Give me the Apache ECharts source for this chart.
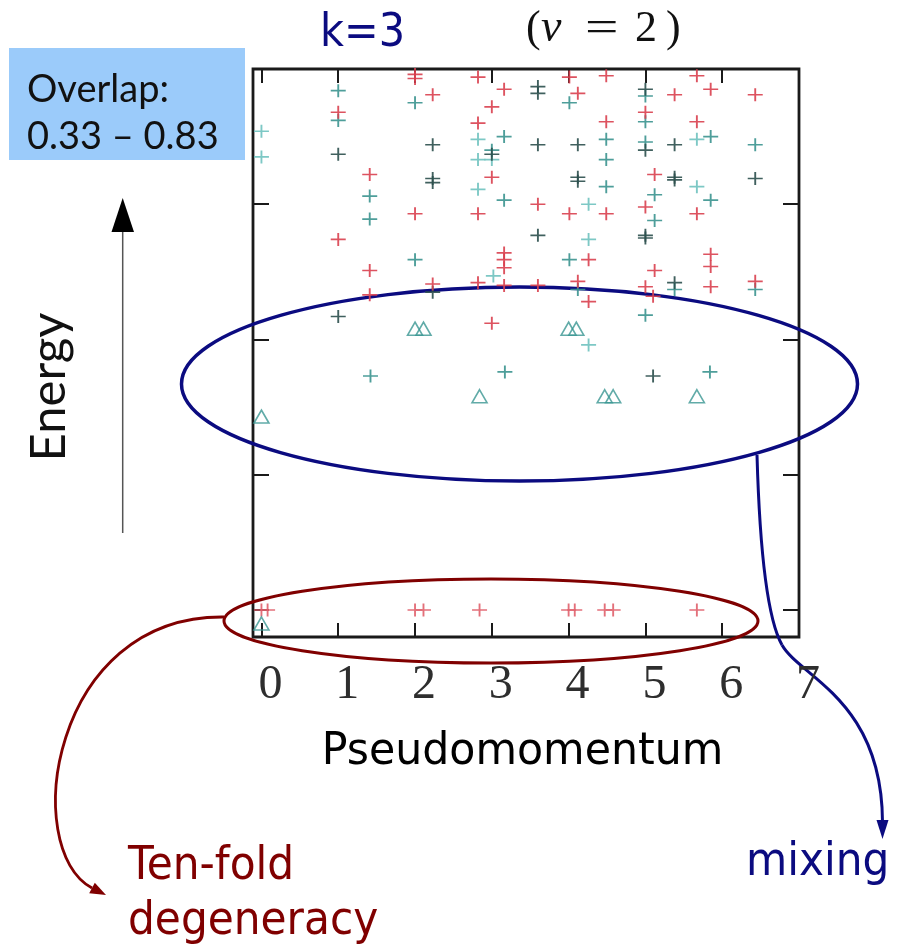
<!DOCTYPE html>
<html>
<head>
<meta charset="utf-8">
<script src="https://cdn.jsdelivr.net/npm/echarts@6/dist/echarts.min.js"></script>
<style>
  html, body { margin: 0; padding: 0; background: #fff; }
  #chart { width: 901px; height: 948px; }
</style>
</head>
<body>
<div id="chart"></div>
<script>
// pseudomomentum (x) vs energy (y, arbitrary units)
const redPts = [
  [2.0,3.96],[2.0,3.93],[2.82,3.94],[2.23,3.81],[3.16,3.85],[3.0,3.72],[1.0,3.68],[2.82,3.60],
  [1.41,3.22],[3.0,3.20],[3.6,3.00],[2.0,2.93],[2.82,2.93],[1.0,2.74],[3.16,2.64],[3.16,2.59],
  [3.16,2.53],[1.41,2.51],[2.23,2.41],[2.82,2.42],[3.16,2.40],[1.41,2.33],[3.6,2.40],
  [4.01,3.94],[4.49,3.95],[5.67,3.95],[5.85,3.85],[5.38,3.81],[6.43,3.81],[4.12,3.82],[4.49,3.61],
  [5.0,3.68],[5.67,3.61],[5.12,3.22],[4.01,2.93],[4.49,2.93],[5.0,2.98],[5.67,2.93],[4.26,2.59],
  [5.12,2.51],[5.85,2.63],[5.85,2.54],[4.12,2.43],[4.26,2.28],[5.0,2.39],[5.1,2.32],[5.85,2.39],
  [6.43,2.43],[3.0,2.12]
];
// ten-fold degenerate ground states
const groundPts = [
  [0,0],[0.08,0],[2.0,0],[2.11,0],[2.84,0],[4.0,0],[4.08,0],[4.47,0],[4.58,0],[5.67,0]
];
const darkPts = [
  [3.6,3.87],[3.6,3.82],[3.6,3.44],[2.23,3.44],[1.0,3.37],[3.0,3.37],[2.23,3.19],[2.23,3.16],
  [3.6,2.77],[2.23,2.35],[5.0,3.85],[4.12,3.44],[5.0,3.40],[5.38,3.44],[4.12,3.20],[4.12,3.17],
  [5.38,3.20],[5.38,3.18],[6.43,3.19],[5.0,2.77],[5.0,2.75],[5.38,2.42],[1.0,2.17],[5.1,1.73]
];
const tealPts = [
  [1.0,3.84],[2.0,3.75],[1.0,3.62],[3.16,3.50],[3.0,3.40],[1.41,3.06],[3.16,3.03],[1.41,2.89],
  [2.0,2.59],[5.0,3.80],[4.01,3.75],[5.0,3.61],[4.49,3.48],[5.0,3.46],[5.85,3.50],[6.43,3.44],
  [4.49,3.33],[4.49,3.13],[5.12,3.07],[5.85,3.03],[5.12,2.88],[4.01,2.59],[4.12,2.37],[5.38,2.37],
  [6.43,2.37],[5.0,2.18],[1.42,1.73],[3.17,1.76],[5.84,1.76]
];
const lightPts = [
  [0,3.54],[0,3.35],[2.82,3.48],[2.82,3.33],[3.0,3.33],[2.82,3.11],[3.02,2.47],[5.67,3.48],
  [5.67,3.13],[4.26,3.00],[4.26,2.74],[4.26,1.96]
];
const trianglePts = [
  [2.0,2.08],[2.11,2.08],[4.0,2.08],[4.1,2.08],[2.84,1.58],[4.47,1.58],[4.58,1.58],[5.67,1.58],
  [0,1.43],[0,-0.1]
];
const xTickVals = [0, 1, 2, 3, 4, 5, 6];
const xLabelVals = [0, 1, 2, 3, 4, 5, 6, 7];
const yTickVals = [0, 1, 2, 3];

const plusPath = 'path://M7,0H9V7H16V9H9V16H7V9H0V7H7Z';
const navy = '#0b0b80';
const maroon = '#800000';

const plusSeries = (data, color)=>{
    return {
        type: 'scatter',
        data,
        symbol: plusPath,
        symbolSize: [15, 13],
        silent: true,
        itemStyle: { color, opacity: 0.9 }
    };
};

const tickStyle = { color: '#1a1a1a', width: 2 };
const xAxisBase = (position)=>({
    type: 'value',
    min: -0.11,
    max: 7,
    position,
    axisLine: { show: false, onZero: false },
    splitLine: { show: false },
    axisTick: { show: true, inside: true, length: 14, lineStyle: tickStyle, customValues: xTickVals },
    axisLabel: { show: false }
});
const yAxisBase = (position)=>({
    type: 'value',
    min: -0.2,
    max: 4,
    position,
    axisLine: { show: false, onZero: false },
    splitLine: { show: false },
    axisTick: { show: true, inside: true, length: 16, lineStyle: tickStyle, customValues: yTickVals },
    axisLabel: { show: false }
});

const bottomAxis = xAxisBase('bottom');
bottomAxis.axisLabel = {
    show: true,
    customValues: xLabelVals,
    margin: 24,
    fontFamily: 'Liberation Serif',
    fontSize: 48,
    lineHeight: 48,
    color: '#2e2e2e',
    padding: [0, 0, 0, 18]
};

const txt = (x, y, text, font, fill, extra)=>{
    return Object.assign({
        type: 'text',
        x, y,
        silent: true,
        style: {
            x: 0, y: 0, text, font, fill,
            align: 'left', textAlign: 'left',
            verticalAlign: 'middle', textVerticalAlign: 'middle'
        }
    }, extra || {});
};

const graphic = [
    { type: 'rect', silent: true, shape: { x: 9, y: 48, width: 236, height: 112 }, style: { fill: '#9bcbfa' } },
    txt(27, 90, 'Overlap:', '38px Lato', '#111'),
    txt(27, 137, '0.33 \u2013 0.83', '38px Lato', '#111'),
    txt(320, 34, 'k=3', '46px "DejaVu Sans"', navy, { scaleX: 0.9 }),
    txt(526, 29, '(', '44px "Liberation Serif"', '#111'),
    txt(541, 29, '\u03bd', 'italic 46px "Liberation Serif"', '#111'),
    txt(585, 29, '=', '44px "Liberation Serif"', '#111', { scaleX: 1.35 }),
    txt(635, 29, '2', '44px "Liberation Serif"', '#111'),
    txt(666, 29, ')', '44px "Liberation Serif"', '#111'),
    // energy arrow
    { type: 'line', silent: true, shape: { x1: 122.7, y1: 533, x2: 122.7, y2: 228 }, style: { stroke: '#555', lineWidth: 1.5 } },
    { type: 'polygon', silent: true, shape: { points: [[122.7, 198], [111.5, 232], [134, 232]] }, style: { fill: '#000' } },
    {
        type: 'text', x: 49, y: 387, rotation: Math.PI / 2, silent: true,
        style: { x: 0, y: 0, text: 'Energy', font: '49px Lato', fill: '#111',
            align: 'center', textAlign: 'center', verticalAlign: 'middle', textVerticalAlign: 'middle' }
    },
    txt(321.7, 753, 'Pseudomomentum', '44px "DejaVu Sans"', '#000', { scaleX: 0.97 }),
    // mixing region
    { type: 'ellipse', silent: true, shape: { cx: 519.5, cy: 384, rx: 338, ry: 97 }, style: { fill: 'none', stroke: navy, lineWidth: 3.5 } },
    { type: 'bezierCurve', silent: true, shape: { x1: 757, y1: 455, cpx1: 760, cpy1: 560, cpx2: 768, cpy2: 620, x2: 782, y2: 645 }, style: { fill: 'none', stroke: navy, lineWidth: 3 } },
    { type: 'bezierCurve', silent: true, shape: { x1: 782, y1: 645, cpx1: 800, cpy1: 677, cpx2: 882, cpy2: 700, x2: 882.5, y2: 822 }, style: { fill: 'none', stroke: navy, lineWidth: 3 } },
    { type: 'polygon', silent: true, shape: { points: [[882.5, 839], [876.5, 820], [888.5, 820]] }, style: { fill: navy } },
    txt(746, 863, 'mixing', '47px "DejaVu Sans"', navy, { scaleX: 0.9 }),
    // degenerate ground states
    { type: 'ellipse', silent: true, shape: { cx: 491, cy: 621, rx: 267, ry: 42 }, style: { fill: 'none', stroke: maroon, lineWidth: 3 } },
    { type: 'bezierCurve', silent: true, shape: { x1: 224, y1: 617, cpx1: 50, cpy1: 615, cpx2: 20, cpy2: 850, x2: 92, y2: 888 }, style: { fill: 'none', stroke: maroon, lineWidth: 2.8 } },
    { type: 'polygon', silent: true, shape: { points: [[106, 895], [89.2, 893.3], [94.8, 882.7]] }, style: { fill: maroon } },
    txt(128, 867, 'Ten-fold', '47px "DejaVu Sans"', maroon, { scaleX: 0.9 }),
    txt(128, 922, 'degeneracy', '47px "DejaVu Sans"', maroon, { scaleX: 0.9 })
];

const chart = echarts.init(document.getElementById('chart'), null, { renderer: 'canvas' });
chart.setOption({
    animation: false,
    backgroundColor: '#fff',
    grid: {
        left: 253, top: 69, right: 102, bottom: 311,
        show: true, borderColor: '#1a1a1a', borderWidth: 2.8, backgroundColor: 'rgba(0,0,0,0)'
    },
    xAxis: [bottomAxis, xAxisBase('top')],
    yAxis: [yAxisBase('left'), yAxisBase('right')],
    series: [
        plusSeries(lightPts, '#6fc2bf'),
        plusSeries(tealPts, '#3b948f'),
        plusSeries(darkPts, '#2b4f4c'),
        plusSeries(redPts, '#d9404f'),
        plusSeries(groundPts, '#e0606c'),
        {
            type: 'scatter',
            data: trianglePts,
            symbol: 'triangle',
            symbolSize: [15, 13],
            silent: true,
            itemStyle: { color: 'rgba(255,255,255,0)', borderColor: '#3a9692', borderWidth: 1.6 }
        }
    ],
    graphic
});
</script>
</body>
</html>
